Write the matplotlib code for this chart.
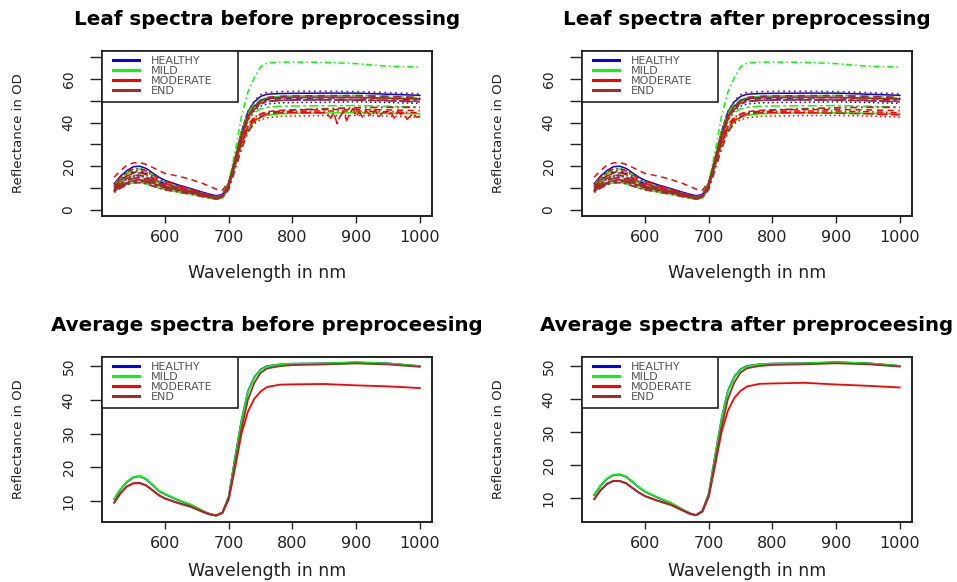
import matplotlib
matplotlib.use("Agg")
import matplotlib.pyplot as plt
from matplotlib.lines import Line2D
from matplotlib.patches import Rectangle

# wavelength grid (nm)
wl = [520, 530, 540, 550, 560, 570, 580, 590, 600, 620, 640, 660, 670, 680, 690,
      700, 710, 720, 730, 740, 750, 760, 780, 800, 850, 900, 950, 1000]

# individual leaf spectra
healthy = [
    [12, 15.5, 18, 19.8, 20, 19, 17, 15, 13.5, 11.5, 9.8, 8, 7.2, 6.5, 7,
     12.5, 24, 36, 45, 49.5, 52, 53, 53.3, 53.4, 53.5, 53.5, 53, 52.5],
    [10.5, 13.5, 15.8, 17.2, 17.5, 16.5, 14.7, 13, 12, 10.2, 9, 7.3, 6.6, 6, 6.7,
     12, 23, 34, 42.5, 47, 49.5, 50.5, 51, 51.2, 51.3, 51.5, 51, 50.5],
    [9.5, 12, 14, 15.3, 15.5, 14.8, 13.2, 11.8, 10.8, 9.3, 8.3, 6.8, 6.1, 5.6, 6.3,
     11, 21.5, 32.5, 41, 45.5, 47.5, 48.5, 49, 49.2, 49.3, 49.5, 49.2, 48.8],
]
mild = [
    [11, 14, 16.5, 18, 18.3, 17.3, 15.5, 13.8, 12.5, 10.5, 9, 7.2, 6.3, 5.5, 6,
     13, 27, 43, 54, 60.5, 65.5, 67.2, 67.7, 67.7, 67.6, 67, 65.8, 65.5],
    [11.5, 14.5, 17, 18.5, 18.8, 17.8, 16, 14.2, 12.8, 10.8, 9.3, 7.5, 6.7, 6, 6.5,
     12.5, 24.5, 36, 44.5, 48.5, 50.5, 51.5, 52, 52.2, 52.3, 52.5, 52, 51.5],
    [10, 12.5, 14.5, 15.8, 16, 15.2, 13.6, 12.2, 11.2, 9.6, 8.5, 7, 6.2, 5.5, 6.2,
     11.5, 22.5, 33, 41, 44.5, 46.3, 47, 47.5, 47.6, 47.7, 47.8, 47.5, 47],
    [8.5, 10.5, 11.8, 12.5, 12.6, 12, 11, 10, 9.3, 8.2, 7.3, 6, 5.4, 4.8, 5.5,
     10.5, 20.5, 30, 37, 40.5, 42.5, 43.3, 44, 44.2, 44.4, 44.5, 44.3, 44],
]
moderate = [
    [15, 18, 20.5, 21.5, 21.8, 20.8, 19.5, 18, 16.7, 15.5, 14, 12, 10.8, 9.5, 9,
     13, 22, 31, 38, 42, 44, 45, 45.6, 45.8, 46, 46, 45.8, 45.5],
    [10, 12.5, 14.5, 15.7, 16, 15.2, 13.5, 12, 11, 9.5, 8.3, 6.8, 6.1, 5.5, 6,
     10.5, 20, 29.5, 36, 39.5, 41.3, 42.2, 42.8, 43, 43.2, 43.3, 43, 42.5],
    [12, 15, 17.5, 18.8, 19, 18, 16.3, 14.5, 13.2, 11.2, 9.6, 7.8, 6.8, 6, 6.5,
     11.5, 22, 32, 39, 42.5, 44, 44.7, 45, 45.2, 45.3, 45.3, 45, 44.5],
]
end = [
    [8.5, 10.5, 12, 13, 13.2, 12.7, 11.8, 10.8, 10, 8.8, 7.8, 6.5, 5.9, 5.3, 5.8,
     11, 22, 33, 41.5, 46, 48.5, 49.6, 50.2, 50.4, 50.5, 50.5, 50.2, 49.8],
    [9, 11, 12.5, 13.5, 13.8, 13.3, 12.3, 11.2, 10.3, 9, 8, 6.6, 6, 5.4, 6,
     11.5, 23, 34.5, 43, 47.5, 50, 51, 51.4, 51.5, 51.6, 51.5, 51.2, 50.8],
    [10, 12.5, 14.5, 15.6, 15.8, 15, 13.7, 12.3, 11.3, 9.7, 8.5, 7, 6.3, 5.6, 6.1,
     11, 22, 33.5, 42, 47, 50, 51.5, 52, 52.2, 52.3, 52.3, 52, 51.5],
    [11, 14, 16.5, 17.8, 18, 17.2, 15.5, 13.8, 12.6, 10.8, 9.3, 7.5, 6.8, 6, 6.6,
     12, 23.5, 35.5, 45, 50, 52.8, 53.8, 54.2, 54.3, 54.4, 54.2, 53.7, 53.2],
    [8, 10, 11.5, 12.3, 12.5, 12, 11, 10, 9.2, 8.2, 7.2, 6, 5.5, 5, 5.5,
     9.5, 18.5, 28, 35.5, 40, 42.5, 44, 45.3, 45.8, 46.3, 46.8, 47, 47],
    [9.5, 11.8, 13.5, 14.5, 14.7, 14.1, 13, 11.8, 10.8, 9.4, 8.2, 6.8, 6.1, 5.5, 6,
     11, 22.5, 34, 42.5, 46.8, 49, 49.8, 50.2, 50.3, 50.4, 50.3, 50, 49.5],
]

# one moderate sample: noisy before preprocessing, smooth after
wl_noisy = [520, 530, 540, 550, 560, 570, 580, 590, 600, 620, 640, 660, 670, 680, 690,
            700, 710, 720, 730, 740, 750, 760, 780, 800, 850,
            855, 860, 865, 870, 875, 880, 885, 890, 895, 900, 905, 910, 915, 920, 925,
            930, 935, 940, 945, 950, 955, 960, 965, 970, 975, 980, 985, 990, 995, 1000]
mod_noisy = [11, 13.5, 15.5, 16.8, 17, 16.2, 14.5, 13, 12, 10.3, 9, 7.3, 6.5, 5.8, 6.3,
             11, 21, 31, 37.5, 41, 43, 44, 44.5, 44.6, 44.5,
             44, 42, 44.5, 39.5, 43, 45, 41, 44, 46.5, 43, 44.8, 42.5, 45.5, 44, 43,
             46, 42.5, 44, 45, 43.5, 44.5, 42, 45, 43.8, 44.5, 41.5, 43, 44, 42.5, 43]
mod_smooth = [11, 13.5, 15.5, 16.8, 17, 16.2, 14.5, 13, 12, 10.3, 9, 7.3, 6.5, 5.8, 6.3,
              11, 21, 31, 37.5, 41, 43, 44, 44.5, 44.6, 44.5, 44.3, 44, 43.5]

# average spectra
avg_before = {
    "HEALTHY": [10.5, 13.5, 15.7, 17.0, 17.4, 16.5, 14.8, 13.0, 12.0, 10.3, 8.9, 7.0, 6.2, 5.7, 6.5,
                11.5, 23, 34, 42.5, 46.7, 49, 50, 50.5, 50.7, 50.8, 51.1, 50.8, 50.0],
    "MILD": [10.6, 13.6, 15.8, 17.1, 17.5, 16.6, 14.9, 13.1, 12.1, 10.4, 9.0, 7.0, 6.2, 5.6, 6.4,
             11.3, 22.8, 33.8, 42.3, 46.5, 48.9, 49.9, 50.5, 50.7, 50.8, 51.1, 50.8, 50.0],
    "MODERATE": [9.6, 12.4, 14.4, 15.3, 15.4, 14.7, 13.3, 11.8, 10.8, 9.5, 8.4, 6.8, 6.1, 5.8, 6.6,
                 10.5, 20, 30, 36.5, 40.3, 42.5, 43.8, 44.5, 44.6, 44.7, 44.3, 44.0, 43.5],
    "END": [9.5, 12.3, 14.3, 15.2, 15.3, 14.6, 13.2, 11.7, 10.7, 9.4, 8.3, 6.7, 6.0, 5.7, 6.5,
            10.8, 21, 31.5, 40, 45, 48, 49.3, 50.0, 50.3, 50.5, 50.8, 50.5, 49.8],
}
avg_after = {
    "HEALTHY": [11.0, 13.8, 15.9, 17.0, 17.2, 16.5, 15.0, 13.3, 12.0, 10.2, 8.6, 6.5, 5.5, 4.9, 6.2,
                11.5, 23, 34, 42.5, 46.7, 49, 50, 50.5, 50.7, 50.8, 51.1, 50.8, 50.0],
    "MILD": [11.1, 13.9, 16.0, 17.1, 17.3, 16.6, 15.1, 13.4, 12.1, 10.3, 8.7, 6.5, 5.5, 4.8, 6.1,
             11.3, 22.8, 33.8, 42.3, 46.5, 48.9, 49.9, 50.5, 50.7, 50.8, 51.1, 50.8, 50.0],
    "MODERATE": [9.8, 12.5, 14.4, 15.3, 15.3, 14.6, 13.2, 11.8, 10.7, 9.3, 8.1, 6.3, 5.4, 4.9, 6.0,
                 10.5, 20, 30, 36.5, 40.3, 42.5, 43.8, 44.6, 44.7, 44.9, 44.4, 44.0, 43.5],
    "END": [9.7, 12.4, 14.3, 15.2, 15.2, 14.5, 13.1, 11.7, 10.6, 9.2, 8.0, 6.2, 5.3, 4.9, 6.1,
            10.8, 21, 31.5, 40, 45, 48, 49.3, 50.0, 50.3, 50.5, 50.8, 50.5, 49.8],
}

labels = ["HEALTHY", "MILD", "MODERATE", "END"]
colors = ["#0000FF", "#00FF00", "#FF0000", "#A52A2A"]
styles = ["-", (0, (4, 3)), (0, (1, 2)), (0, (1, 2, 4, 2)), (0, (7, 2)), (0, (2, 2, 6, 2))]

fig = plt.figure(figsize=(9.57, 5.82), dpi=100)
W, H = 957, 582
AW, AH = 330, 165


def make_ax(x0, y0):
    # pixel box -> figure fraction
    return fig.add_axes([x0 / W, 1 - (y0 + AH) / H, AW / W, AH / H])


def style_ax(ax, title, ylim, yticks, ylabels, xlabpad):
    ax.set_xlim(500.8, 1019.2)
    ax.set_ylim(*ylim)
    ax.set_xticks([600, 700, 800, 900, 1000])
    ax.set_yticks(yticks)
    ax.set_yticklabels(ylabels, rotation=90, va="center")
    ax.tick_params(axis="x", length=5, width=1, labelsize=11.5, pad=5, colors="#222222")
    ax.tick_params(axis="y", length=9, width=1, labelsize=10, pad=10, colors="#222222")
    for s in ax.spines.values():
        s.set_linewidth(1.4)
        s.set_color("#222222")
    ax.set_title(title, fontsize=14.3, fontweight="bold", pad=19)
    ax.set_xlabel("Wavelength in nm", fontsize=12.5, labelpad=xlabpad, color="#222222")
    ax.set_ylabel("Reflectance in OD", fontsize=9.5, labelpad=26, color="#222222")
    # legend box, flush with the top-left corner
    ax.add_patch(Rectangle((0, 1 - 51 / AH), 136 / AW, 51 / AH, transform=ax.transAxes,
                           facecolor="white", edgecolor="#222222", lw=1.2, zorder=4,
                           clip_on=False))
    handles = [Line2D([], [], color=c, lw=2.2) for c in colors]
    leg = ax.legend(handles, labels, loc="upper left", bbox_to_anchor=(0.02, 1),
                    borderaxespad=0, frameon=False, fontsize=8,
                    handlelength=2.35, handletextpad=1.0,
                    labelspacing=0.0, borderpad=0.42, labelcolor="#555555")
    leg.set_zorder(5)


def draw_leaves(ax, noisy):
    k = 0
    groups = [(healthy, colors[0]), (mild, colors[1]), (moderate, colors[2])]
    for spectra, c in groups:
        for sp in spectra:
            ax.plot(wl, sp, color=c, lw=1.1, ls=styles[k % len(styles)])
            k += 1
        if c == colors[2]:
            if noisy:
                ax.plot(wl_noisy, mod_noisy, color=c, lw=1.1, ls=styles[k % len(styles)])
            else:
                ax.plot(wl, mod_smooth, color=c, lw=1.1, ls=styles[k % len(styles)])
            k += 1
    for sp in end:
        ax.plot(wl, sp, color=colors[3], lw=1.3, ls=styles[k % len(styles)])
        k += 1


top_ticks = [0, 10, 20, 30, 40, 50, 60, 70]
top_labels = ["0", "", "20", "", "40", "", "60", ""]

ax1 = make_ax(102, 51)
draw_leaves(ax1, True)
style_ax(ax1, "Leaf spectra before preprocessing", (-2.8, 72.8), top_ticks, top_labels, 14)

ax2 = make_ax(582, 51)
draw_leaves(ax2, False)
style_ax(ax2, "Leaf spectra after preprocessing", (-2.8, 72.8), top_ticks, top_labels, 14)

bot_ticks = [10, 20, 30, 40, 50]
bot_labels = ["10", "20", "30", "40", "50"]

ax3 = make_ax(102, 357)
for lab, c in zip(labels, colors):
    ax3.plot(wl, avg_before[lab], color=c, lw=1.3)
style_ax(ax3, "Average spectra before preproceesing", (3.8, 52.7), bot_ticks, bot_labels, 8)

ax4 = make_ax(582, 357)
for lab, c in zip(labels, colors):
    ax4.plot(wl, avg_after[lab], color=c, lw=1.3)
style_ax(ax4, "Average spectra after preproceesing", (2.85, 52.7), bot_ticks, bot_labels, 8)

fig.savefig("out.png", dpi=100)
